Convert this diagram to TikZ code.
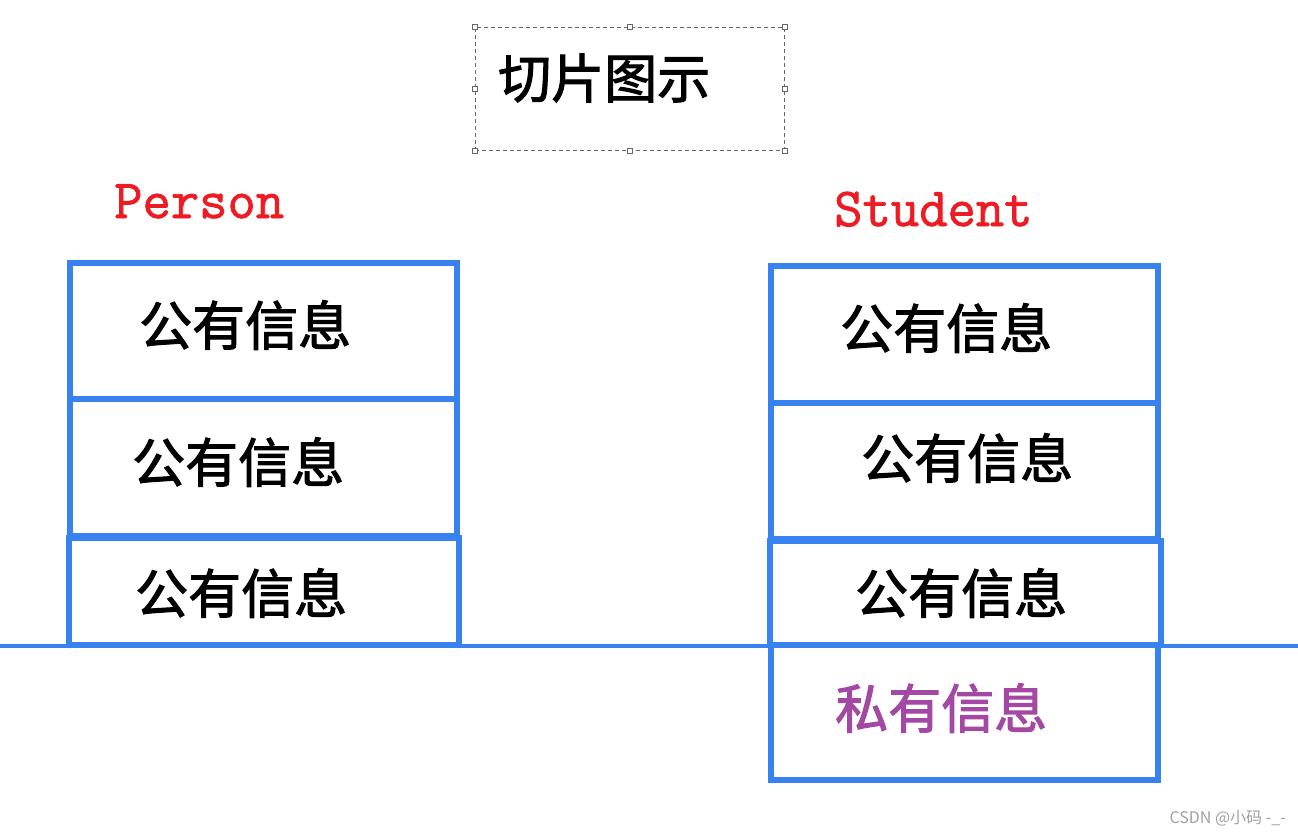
\documentclass[tikz,border=0pt]{standalone}
\usepackage{fontspec}
\newfontfamily\cjk{Noto Sans CJK SC}
\newfontfamily\cjkfb{Noto Sans CJK SC}[FakeBold=2]
\newfontfamily\enmono{Latin Modern Mono}[FakeBold=1.5]
\definecolor{boxblue}{RGB}{56,130,240}
\definecolor{lblred}{RGB}{237,28,36}
\definecolor{privpurple}{RGB}{163,73,164}
\definecolor{wmgray}{RGB}{160,160,160}
\tikzset{
  blk/.style={draw=boxblue, line width=5.5pt},
  cn/.style={font=\cjkfb\fontsize{53}{53}\selectfont, anchor=west, inner sep=0pt},
  en/.style={font=\enmono\fontsize{55}{55}\selectfont, text=lblred, anchor=base west, inner sep=0pt},
  handle/.style={draw=gray!80!black, fill=white, line width=0.8pt, minimum size=5pt, inner sep=0pt},
}
\begin{document}
\begin{tikzpicture}[x=1pt,y=-1pt]
\useasboundingbox (0,0) rectangle (1298,836);
% title box
\node[draw=gray!80!black, dashed, dash pattern=on 4pt off 3pt, line width=0.8pt, minimum width=309pt, minimum height=123pt, anchor=north west] (tbox) at (475,27) {};
\foreach \a in {north west, north, north east, east, south east, south, south west, west}
  \node[handle] at (tbox.\a) {};
\node[cn] (title) at (498,78) {切片图示};
% labels
\node[en] (person) at (114,218) {Person};
\node[en] (student) at (834,226) {Student};
% left stack
\draw[blk] (70,263) rectangle (457,399);
\draw[blk] (70,399) rectangle (457,536);
\draw[blk] (69,538) rectangle (459,645);
% right stack
\draw[blk] (771,266) rectangle (1158,403);
\draw[blk] (771,403) rectangle (1158,539);
\draw[blk] (770,541) rectangle (1161,645);
\draw[blk] (771,645) rectangle (1158,780);
% base line
\coordinate (lineL) at (0,646);
\coordinate (lineR) at (1298,646);
\draw[draw=boxblue, line width=4pt] (lineL) -- (lineR);
% texts
\node[cn] (l1) at (139,325) {公有信息};
\node[cn] (l2) at (132,462) {公有信息};
\node[cn] (l3) at (135,593) {公有信息};
\node[cn] (r1) at (840,328) {公有信息};
\node[cn] (r2) at (861,458) {公有信息};
\node[cn] (r3) at (855,593) {公有信息};
\node[cn, text=privpurple] (r4) at (835,708) {私有信息};
\node[font=\cjk\fontsize{16}{16}\selectfont, text=wmgray, anchor=east, inner sep=0pt] (wm) at (1286,818) {CSDN @小码 -\_-};
\end{tikzpicture}
\end{document}
